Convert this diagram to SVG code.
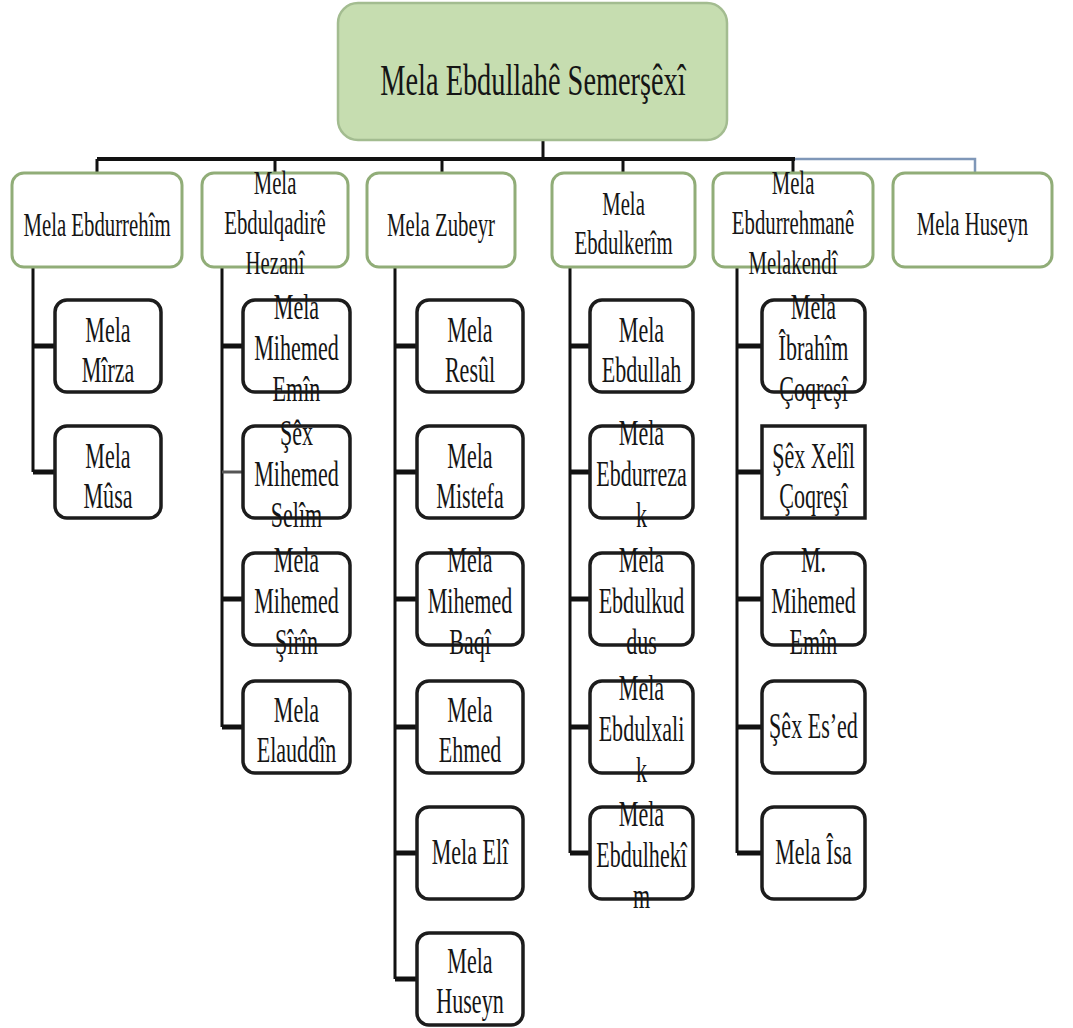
<svg xmlns="http://www.w3.org/2000/svg" width="1073" height="1028" viewBox="0 0 1073 1028">
<style>
text{font-family:"Liberation Serif","Times New Roman",serif;fill:#151515;text-anchor:middle}
.t0{font-size:45px}
.t1{font-size:33px}
.t2{font-size:35px}
.root{fill:#c6ddb0;stroke:#a3bc90;stroke-width:2.5}
.l1{fill:#fff;stroke:#91ad78;stroke-width:3}
.l2{fill:#fff;stroke:#1c1c1c;stroke-width:3.5}
.bar{stroke:#111;stroke-width:4;fill:none}
.ln{stroke:#111;stroke-width:3;fill:none}
.stub{stroke:#111;stroke-width:5;fill:none}
.blue{stroke:#7f97b8;stroke-width:2.5;fill:none}
</style>
<rect width="1073" height="1028" fill="#fff"/>
<g id="connectors">
<path class="ln" d="M543 140V159"/>
<path class="bar" d="M97 159H795"/>
<path class="blue" d="M795 159H975V173"/>
<path class="ln" d="M97 159V173M275 159V173M442 159V173M623 159V173M793 159V173"/>
<path class="ln" d="M33 267V472M222 267V727M395 267V979M570 267V853M737 267V853"/>
<path class="stub" d="M33 346H55M33 472H55"/>
<path class="stub" d="M222 346H243M222 599H243M222 727H243"/>
<path stroke="#555" stroke-width="3" d="M222 472H243"/>
<path class="stub" d="M395 346H417M395 472H417M395 599H417M395 727H417M395 853H417M395 979H417"/>
<path class="stub" d="M570 346H590M570 472H590M570 599H590M570 727H590M570 853H590"/>
<path class="stub" d="M737 346H762M737 472H762M737 599H762M737 727H762M737 853H762"/>
</g>
<g id="n-root">
<rect class="root" x="338" y="3" width="389" height="137" rx="20"/>
<text class="t0" transform="translate(533 0) scale(0.63 1)"><tspan x="0" y="95">Mela Ebdullahê Semerşêxî</tspan></text>
</g>
<g id="n-ebdurrehim">
<rect class="l1" x="12" y="173" width="170" height="94" rx="12"/>
<text class="t1" transform="translate(97 0) scale(0.63 1)"><tspan x="0" y="236">Mela Ebdurrehîm</tspan></text>
</g>
<g id="n-ebdulqadir">
<rect class="l1" x="202" y="173" width="146" height="94" rx="12"/>
<text class="t1" transform="translate(275 0) scale(0.63 1)"><tspan x="0" y="194">Mela</tspan><tspan x="0" y="234">Ebdulqadirê</tspan><tspan x="0" y="274">Hezanî</tspan></text>
</g>
<g id="n-zubeyr">
<rect class="l1" x="367" y="173" width="148" height="94" rx="12"/>
<text class="t1" transform="translate(441 0) scale(0.63 1)"><tspan x="0" y="236">Mela Zubeyr</tspan></text>
</g>
<g id="n-ebdulkerim">
<rect class="l1" x="552" y="173" width="143" height="94" rx="12"/>
<text class="t1" transform="translate(623.5 0) scale(0.63 1)"><tspan x="0" y="215">Mela</tspan><tspan x="0" y="254">Ebdulkerîm</tspan></text>
</g>
<g id="n-ebdurrehman">
<rect class="l1" x="713" y="173" width="160" height="94" rx="12"/>
<text class="t1" transform="translate(793 0) scale(0.63 1)"><tspan x="0" y="194">Mela</tspan><tspan x="0" y="234">Ebdurrehmanê</tspan><tspan x="0" y="274">Melakendî</tspan></text>
</g>
<g id="n-huseyn">
<rect class="l1" x="893" y="173" width="159" height="94" rx="12"/>
<text class="t1" transform="translate(972.5 0) scale(0.63 1)"><tspan x="0" y="235">Mela Huseyn</tspan></text>
</g>
<!-- column 1 -->
<g id="c1-mirza">
<rect class="l2" x="55" y="300" width="106" height="92" rx="12"/>
<text class="t2" transform="translate(108 0) scale(0.63 1)"><tspan x="0" y="342">Mela</tspan><tspan x="0" y="382">Mîrza</tspan></text>
</g>
<g id="c1-musa">
<rect class="l2" x="55" y="426" width="106" height="92" rx="12"/>
<text class="t2" transform="translate(108 0) scale(0.63 1)"><tspan x="0" y="468">Mela</tspan><tspan x="0" y="508">Mûsa</tspan></text>
</g>
<!-- column 2 -->
<g id="c2-emin">
<rect class="l2" x="243" y="300" width="107" height="92" rx="12"/>
<text class="t2" transform="translate(296.5 0) scale(0.63 1)"><tspan x="0" y="319">Mela</tspan><tspan x="0" y="360">Mihemed</tspan><tspan x="0" y="401">Emîn</tspan></text>
</g>
<g id="c2-selim">
<rect class="l2" x="243" y="426" width="107" height="92" rx="12"/>
<text class="t2" transform="translate(296.5 0) scale(0.63 1)"><tspan x="0" y="445">Şêx</tspan><tspan x="0" y="486">Mihemed</tspan><tspan x="0" y="527">Selîm</tspan></text>
</g>
<g id="c2-sirin">
<rect class="l2" x="243" y="553" width="107" height="92" rx="12"/>
<text class="t2" transform="translate(296.5 0) scale(0.63 1)"><tspan x="0" y="572">Mela</tspan><tspan x="0" y="613">Mihemed</tspan><tspan x="0" y="654">Şîrîn</tspan></text>
</g>
<g id="c2-elauddin">
<rect class="l2" x="243" y="681" width="107" height="92" rx="12"/>
<text class="t2" transform="translate(296.5 0) scale(0.63 1)"><tspan x="0" y="722">Mela</tspan><tspan x="0" y="762">Elauddîn</tspan></text>
</g>
<!-- column 3 -->
<g id="c3-resul">
<rect class="l2" x="417" y="300" width="106" height="92" rx="12"/>
<text class="t2" transform="translate(470 0) scale(0.63 1)"><tspan x="0" y="342">Mela</tspan><tspan x="0" y="382">Resûl</tspan></text>
</g>
<g id="c3-mistefa">
<rect class="l2" x="417" y="426" width="106" height="92" rx="12"/>
<text class="t2" transform="translate(470 0) scale(0.63 1)"><tspan x="0" y="468">Mela</tspan><tspan x="0" y="508">Mistefa</tspan></text>
</g>
<g id="c3-baqi">
<rect class="l2" x="417" y="553" width="106" height="92" rx="12"/>
<text class="t2" transform="translate(470 0) scale(0.63 1)"><tspan x="0" y="572">Mela</tspan><tspan x="0" y="613">Mihemed</tspan><tspan x="0" y="654">Baqî</tspan></text>
</g>
<g id="c3-ehmed">
<rect class="l2" x="417" y="681" width="106" height="92" rx="12"/>
<text class="t2" transform="translate(470 0) scale(0.63 1)"><tspan x="0" y="722">Mela</tspan><tspan x="0" y="762">Ehmed</tspan></text>
</g>
<g id="c3-eli">
<rect class="l2" x="417" y="807" width="106" height="92" rx="12"/>
<text class="t2" transform="translate(470 0) scale(0.63 1)"><tspan x="0" y="864">Mela Elî</tspan></text>
</g>
<g id="c3-huseyn">
<rect class="l2" x="417" y="933" width="106" height="92" rx="12"/>
<text class="t2" transform="translate(470 0) scale(0.63 1)"><tspan x="0" y="973">Mela</tspan><tspan x="0" y="1013">Huseyn</tspan></text>
</g>
<!-- column 4 -->
<g id="c4-ebdullah">
<rect class="l2" x="590" y="300" width="103" height="92" rx="12"/>
<text class="t2" transform="translate(641.5 0) scale(0.63 1)"><tspan x="0" y="342">Mela</tspan><tspan x="0" y="382">Ebdullah</tspan></text>
</g>
<g id="c4-ebdurrezak">
<rect class="l2" x="590" y="426" width="103" height="92" rx="12"/>
<text class="t2" transform="translate(641.5 0) scale(0.63 1)"><tspan x="0" y="445">Mela</tspan><tspan x="0" y="486">Ebdurreza</tspan><tspan x="0" y="527">k</tspan></text>
</g>
<g id="c4-ebdulkuddus">
<rect class="l2" x="590" y="553" width="103" height="92" rx="12"/>
<text class="t2" transform="translate(641.5 0) scale(0.63 1)"><tspan x="0" y="572">Mela</tspan><tspan x="0" y="613">Ebdulkud</tspan><tspan x="0" y="654">dus</tspan></text>
</g>
<g id="c4-ebdulxalik">
<rect class="l2" x="590" y="681" width="103" height="92" rx="12"/>
<text class="t2" transform="translate(641.5 0) scale(0.63 1)"><tspan x="0" y="700">Mela</tspan><tspan x="0" y="741">Ebdulxali</tspan><tspan x="0" y="782">k</tspan></text>
</g>
<g id="c4-ebdulhekim">
<rect class="l2" x="590" y="807" width="103" height="92" rx="12"/>
<text class="t2" transform="translate(641.5 0) scale(0.63 1)"><tspan x="0" y="826">Mela</tspan><tspan x="0" y="867">Ebdulhekî</tspan><tspan x="0" y="908">m</tspan></text>
</g>
<!-- column 5 -->
<g id="c5-ibrahim">
<rect class="l2" x="762" y="300" width="103" height="92" rx="12"/>
<text class="t2" transform="translate(813.5 0) scale(0.63 1)"><tspan x="0" y="319">Mela</tspan><tspan x="0" y="360">Îbrahîm</tspan><tspan x="0" y="401">Çoqreşî</tspan></text>
</g>
<g id="c5-xelil">
<rect class="l2" x="762" y="426" width="103" height="92"/>
<text class="t2" transform="translate(813.5 0) scale(0.63 1)"><tspan x="0" y="468">Şêx Xelîl</tspan><tspan x="0" y="508">Çoqreşî</tspan></text>
</g>
<g id="c5-emin">
<rect class="l2" x="762" y="553" width="103" height="92" rx="12"/>
<text class="t2" transform="translate(813.5 0) scale(0.63 1)"><tspan x="0" y="572">M.</tspan><tspan x="0" y="613">Mihemed</tspan><tspan x="0" y="654">Emîn</tspan></text>
</g>
<g id="c5-esed">
<rect class="l2" x="762" y="681" width="103" height="92" rx="12"/>
<text class="t2" transform="translate(813.5 0) scale(0.63 1)"><tspan x="0" y="738">Şêx Es’ed</tspan></text>
</g>
<g id="c5-isa">
<rect class="l2" x="762" y="807" width="103" height="92" rx="12"/>
<text class="t2" transform="translate(813.5 0) scale(0.63 1)"><tspan x="0" y="864">Mela Îsa</tspan></text>
</g>
</svg>
